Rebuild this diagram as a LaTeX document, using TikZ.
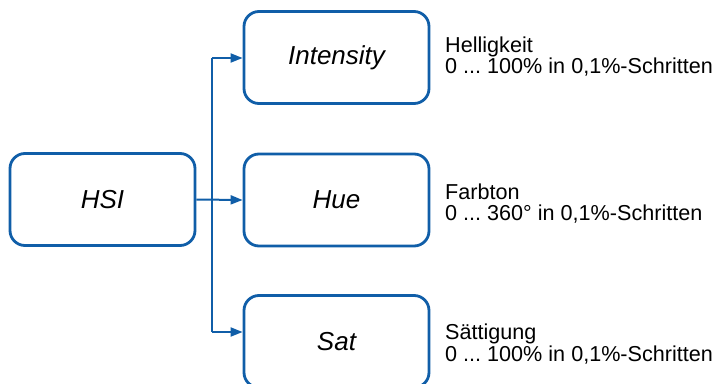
\documentclass[tikz,border=0pt]{standalone}
\usepackage{fontspec}
\setmainfont{Liberation Sans}
\usetikzlibrary{arrows.meta}
\definecolor{hsiblue}{RGB}{16,94,168}
\frenchspacing
\begin{document}
\begin{tikzpicture}[x=1pt,y=-1pt,
  box/.style={draw=hsiblue,line width=2.8pt,rounded corners=15pt,minimum width=185pt,minimum height=92pt,inner sep=0pt,font=\fontsize{26}{26}\selectfont\itshape},
  conn/.style={draw=hsiblue,line width=2pt},
  arr/.style={conn,-{Triangle[length=12pt,width=9pt]}},
  side/.style={anchor=base west,inner sep=0pt,font=\fontsize{21.6}{22}\selectfont}]
\useasboundingbox (0,0) rectangle (723,383);
\node[box] (HSI) at (102.5,199.5) {HSI};
\node[box] (Int) at (336.5,57.5) {Intensity};
\node[box] (Hue) at (336.5,200) {Hue};
\node[box] (Sat) at (336.5,341.5) {Sat};
\coordinate (j1) at (212,58);
\coordinate (j2) at (212,332);
\draw[conn] (j1) -- (j2);
\draw[arr] (HSI.east) -- (Hue.west);
\draw[arr] (j1) -- (j1 -| Int.west);
\draw[arr] (j2) -- (j2 -| Sat.west);
\node[side] (t1) at (445,52) {Helligkeit};
\node[side] (t2) at (445,73) {0 ... 100\% in 0,1\%-Schritten};
\node[side] (t3) at (445,199) {Farbton};
\node[side] (t4) at (445,220) {0 ... 360° in 0,1\%-Schritten};
\node[side] (t5) at (445,339.5) {Sättigung};
\node[side] (t6) at (445,361) {0 ... 100\% in 0,1\%-Schritten};
\end{tikzpicture}
\end{document}
